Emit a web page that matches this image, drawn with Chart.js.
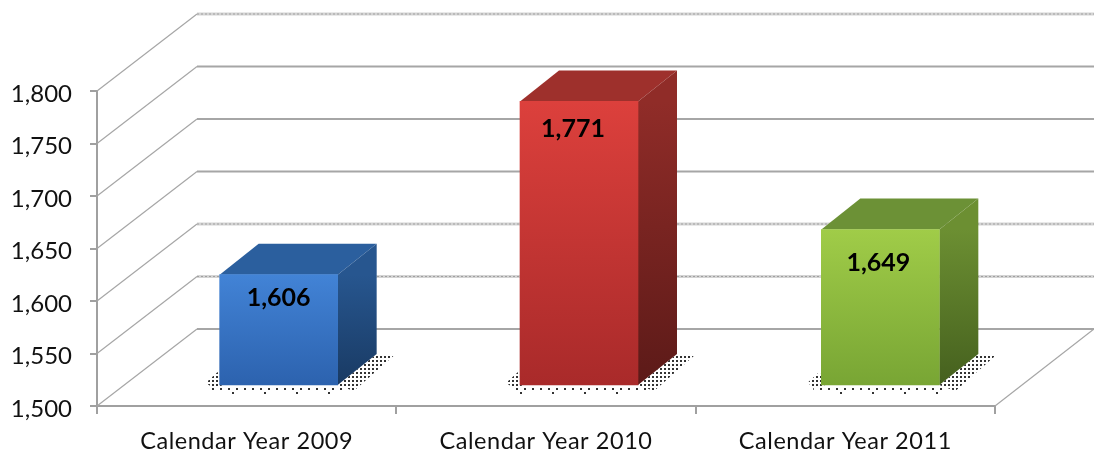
<!DOCTYPE html>
<html>
<head>
<meta charset="utf-8">
<title>Calendar Year Chart</title>
<script src="https://cdn.jsdelivr.net/npm/chart.js@4"></script>
<style>
  html, body { margin: 0; padding: 0; background: #fff; }
  canvas { display: block; }
</style>
</head>
<body>
<canvas id="yearChart" width="1094" height="453"></canvas>
<script>
// Chart data
var categories = ['Calendar Year 2009', 'Calendar Year 2010', 'Calendar Year 2011'];
var counts = [1606, 1771, 1649];
var axisMin = 1500;
var axisMax = 1800;
var axisStep = 50;

// Colors for each bar: front top, front bottom, side top, side bottom, top face
var frontTop = ['#4283d6', '#dc403c', '#a0cc48'];
var frontBottom = ['#2c62ae', '#a92a2a', '#78a534'];
var sideTop = ['#27568f', '#902c28', '#6c8f32'];
var sideBottom = ['#193a63', '#5c1a18', '#45601e'];
var topFace = ['#2b5f9e', '#9e302c', '#6c9136'];

// Fake 3D settings
var wallX = 100, wallY = -77;       // offset of the back wall
var depthX = 39, depthY = -31;      // depth of each bar
var floorY = -20;                   // bars stand this far up the floor
var barShift = [32, 33, 35];        // bars drift right a little
var labelDrop = [23, 27, 33];       // data label distance below bar top
var labelNudge = [0, -6, -2];       // data label distance from bar centre
var lineColor = '#a6a6a6';
var dottedLines = [1800, 1600, 1550];

// Small dotted tile used for the shadow under the bars
function dotPattern(ctx, size, offset) {
    var tile = document.createElement('canvas');
    tile.width = size;
    tile.height = size;
    var t = tile.getContext('2d');
    t.fillStyle = '#333';
    t.fillRect(offset, offset, 2, 2);
    return ctx.createPattern(tile, 'repeat');
}

function polygon(ctx, pts, fill) {
    ctx.beginPath();
    ctx.moveTo(pts[0][0], pts[0][1]);
    for (var i = 1; i < pts.length; i++) {
        ctx.lineTo(pts[i][0], pts[i][1]);
    }
    ctx.closePath();
    ctx.fillStyle = fill;
    ctx.fill();
}

// Walls and floor lines behind the bars
var wallPlugin = {
    id: 'walls',
    // The category labels are spaced out a little in the original
    beforeDraw: function (chart) {
        var x = chart.scales.x;
        if (!x.spacedLabels) {
            var drawLabels = x.drawLabels;
            x.drawLabels = function (area) {
                chart.ctx.save();
                chart.ctx.letterSpacing = '0.55px';
                drawLabels.call(x, area);
                chart.ctx.restore();
            };
            x.spacedLabels = true;
        }
    },
    beforeDatasetsDraw: function (chart) {
        var ctx = chart.ctx;
        var y = chart.scales.y;
        var left = chart.chartArea.left;
        var right = chart.chartArea.right;
        ctx.save();
        ctx.strokeStyle = lineColor;
        for (var v = axisMin; v <= axisMax; v += axisStep) {
            var py = y.getPixelForValue(v);
            ctx.lineWidth = 1.2;
            ctx.beginPath();
            ctx.moveTo(left, py);
            ctx.lineTo(left + wallX, py + wallY);
            ctx.stroke();
            ctx.beginPath();
            ctx.moveTo(left + wallX, py + wallY);
            ctx.lineTo(chart.width, py + wallY);
            if (dottedLines.indexOf(v) >= 0) {
                // these lines look woven in the original: pale base with fine dashes
                ctx.lineWidth = 3;
                ctx.strokeStyle = '#d4d4d4';
                ctx.stroke();
                ctx.lineWidth = 1;
                ctx.strokeStyle = '#a0a0a0';
                ctx.setLineDash([2, 2]);
                ctx.stroke();
                ctx.setLineDash([]);
                ctx.strokeStyle = lineColor;
            } else {
                ctx.lineWidth = 2;
                ctx.stroke();
            }
        }
        // right edge of the floor
        var base = y.getPixelForValue(axisMin);
        ctx.lineWidth = 1.2;
        ctx.beginPath();
        ctx.moveTo(right, base);
        ctx.lineTo(chart.width, base + wallY);
        ctx.stroke();
        ctx.restore();
    },
    // Draw each bar ourselves so it can be shifted onto the floor
    beforeDatasetDraw: function (chart, args) {
        var ctx = chart.ctx;
        var dense = dotPattern(ctx, 4, 0);
        var rowNear = dotPattern(ctx, 8, 4);
        var rowFar = dotPattern(ctx, 32, 8);
        args.meta.data.forEach(function (bar, i) {
            var w = bar.width / 2;
            var L = bar.x - w + barShift[i];
            var R = bar.x + w + barShift[i];
            var T = bar.y + floorY;
            var B = bar.base + floorY;

            // shadow
            polygon(ctx, [[L - 14, B - 2], [L - 2, B - 13], [L + 4, B], [L - 6, B + 3]], dense);
            polygon(ctx, [[L - 8, B], [R + 8, B], [R + 8, B + 5], [L - 8, B + 5]], rowNear);
            polygon(ctx, [[L - 4, B + 5], [R + 8, B + 5], [R + 8, B + 9], [L - 4, B + 9]], rowFar);
            polygon(ctx, [[R, B], [R + depthX, B + depthY], [R + 58, B + depthY], [R + 16, B + 6]], dense);

            // top face
            polygon(ctx, [[L, T], [L + depthX, T + depthY], [R + depthX, T + depthY], [R, T]], topFace[i]);

            // side face
            var side = ctx.createLinearGradient(0, T, 0, B);
            side.addColorStop(0, sideTop[i]);
            side.addColorStop(1, sideBottom[i]);
            polygon(ctx, [[R, T], [R + depthX, T + depthY], [R + depthX, B + depthY], [R, B]], side);

            // front face comes from the chart's own bar element
            ctx.save();
            ctx.translate(barShift[i], floorY);
            bar.draw(ctx, chart.chartArea);
            ctx.restore();

            // value label
            ctx.fillStyle = '#000';
            ctx.font = 'bold 25px Lato';
            ctx.textAlign = 'center';
            ctx.textBaseline = 'middle';
            ctx.fillText(counts[i].toLocaleString('en-US'), (L + R) / 2 + labelNudge[i], T + labelDrop[i]);
        });
        return false;
    }
};

// Front face gradient for each bar
function frontGradient(context) {
    var chart = context.chart;
    if (!chart.chartArea || context.dataIndex === undefined) {
        return frontTop[0];
    }
    var i = context.dataIndex;
    var y = chart.scales.y;
    var g = chart.ctx.createLinearGradient(0, y.getPixelForValue(counts[i]), 0, y.getPixelForValue(axisMin));
    g.addColorStop(0, frontTop[i]);
    g.addColorStop(1, frontBottom[i]);
    return g;
}

var ctx = document.getElementById('yearChart').getContext('2d');

var myChart = new Chart(ctx, {
    type: 'bar',
    data: {
        labels: categories,
        datasets: [{
            data: counts,
            base: axisMin,
            backgroundColor: frontGradient,
            borderWidth: 0,
            barThickness: 118
        }]
    },
    options: {
        responsive: false,
        animation: false,
        layout: {
            autoPadding: false,
            padding: { top: 91, right: 99 }
        },
        scales: {
            y: {
                min: axisMin,
                max: axisMax,
                afterFit: function (scale) { scale.width = 97; },
                border: { color: '#a0a0a0', width: 2 },
                grid: { drawOnChartArea: false, color: '#a0a0a0', lineWidth: 2, tickLength: 7 },
                ticks: {
                    stepSize: axisStep,
                    color: '#111',
                    padding: 18,
                    labelOffset: 3,
                    font: { family: 'Lato', size: 24 }
                }
            },
            x: {
                afterFit: function (scale) { scale.height = 47; },
                border: { color: '#a0a0a0', width: 2 },
                grid: { drawOnChartArea: false, color: '#a0a0a0', lineWidth: 2, tickLength: 8 },
                ticks: {
                    color: '#111',
                    padding: 13,
                    maxRotation: 0,
                    font: { family: 'Lato', size: 23.5 }
                }
            }
        },
        plugins: {
            legend: { display: false },
            title: { display: false },
            tooltip: { enabled: false }
        }
    },
    plugins: [wallPlugin]
});
</script>
</body>
</html>
